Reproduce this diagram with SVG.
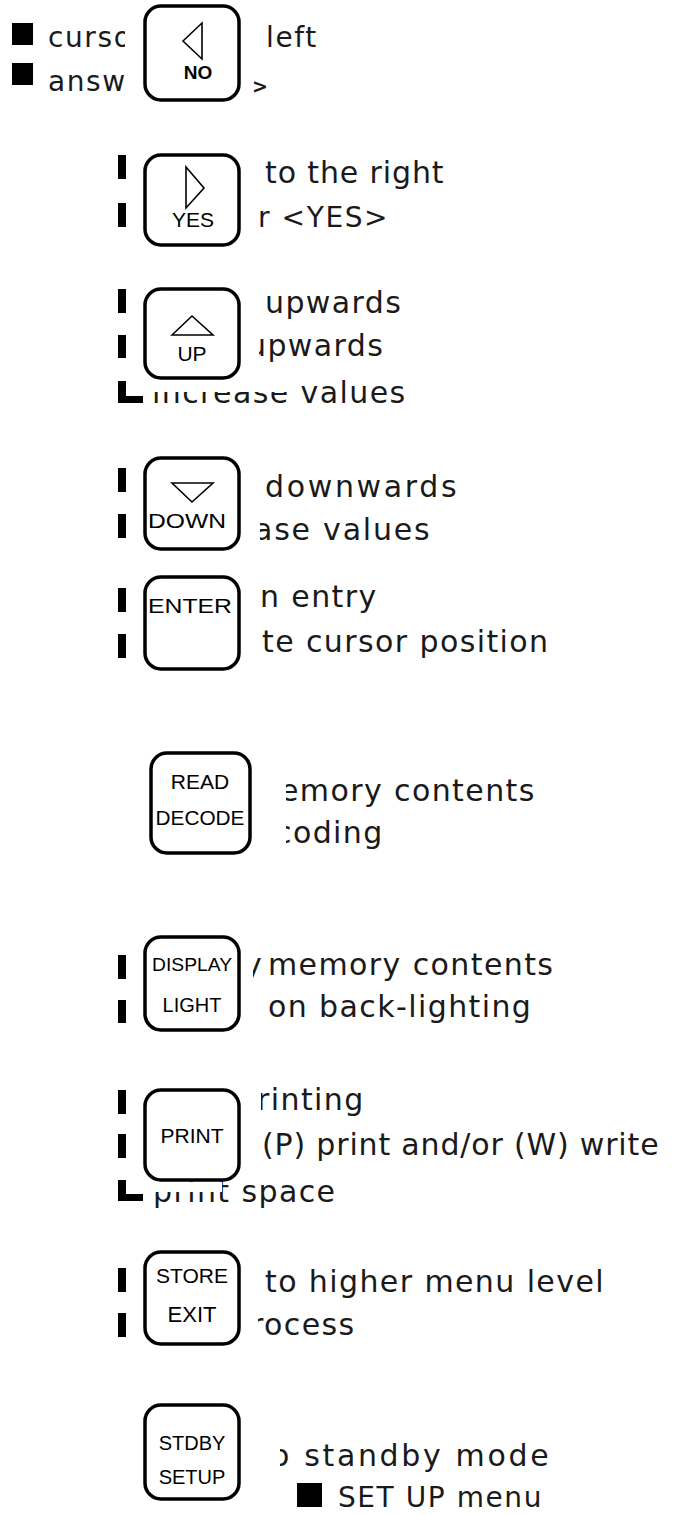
<svg xmlns="http://www.w3.org/2000/svg" width="680" height="1515" viewBox="0 0 680 1515">
<style>
.t{font-family:"DejaVu Sans","Liberation Sans",sans-serif;font-size:30px;letter-spacing:1.4px;fill:#1a1a1a}
.s{font-size:28px;letter-spacing:1.6px}
.k{font-family:"Liberation Sans",Arial,sans-serif;fill:#000;text-anchor:middle}
.key{fill:#fff;stroke:#000;stroke-width:3.5}
.tri{fill:none;stroke:#000;stroke-width:1.6;stroke-linejoin:miter}
.b{fill:#000}
.o{fill:#fff}
</style>
<rect width="680" height="1515" fill="#fff"/>

<g id="row-no">
<rect class="b" x="12" y="23" width="21" height="22"/>
<rect class="b" x="12" y="63" width="21" height="22"/>
<text class="t s" x="48" y="47">curso</text>
<text class="t s" x="48" y="91">answ</text>
<rect class="o" x="125" y="10" width="18" height="90"/>
<text class="t s" x="266" y="47">left</text>
<text x="252" y="93" style="font-family:'DejaVu Sans',sans-serif;font-size:19px;font-weight:bold;fill:#1a1a1a">&gt;</text>
<rect class="key" x="145" y="6" width="94" height="94" rx="16"/>
<polygon class="tri" points="183,41 202,23 202,59"/>
<text class="k" x="198" y="79" font-size="19" font-weight="bold">NO</text>
</g>

<g id="row-yes">
<rect class="b" x="118" y="155" width="8" height="24"/>
<rect class="b" x="118" y="203" width="8" height="24"/>
<text class="t" x="265" y="183" textLength="180">to the right</text>
<text class="t s" x="258" y="227">r &lt;YES&gt;</text>
<rect class="key" x="145" y="155" width="94" height="90" rx="16"/>
<polygon class="tri" points="186,167 204,188 186,208"/>
<text class="k" x="193" y="227" font-size="21">YES</text>
</g>

<g id="row-up">
<rect class="b" x="118" y="289" width="8" height="24"/>
<rect class="b" x="118" y="335" width="8" height="23"/>
<text class="t" x="265" y="313">upwards</text>
<text class="t" x="247" y="356">upwards</text>
<rect class="o" x="242" y="320" width="17" height="50"/>
<path class="b" d="M118 381h8v15h17v7h-25z"/>
<text class="t" x="152" y="403">increase values</text>
<rect class="o" x="145" y="380" width="150" height="12"/>
<rect class="key" x="145" y="289" width="94" height="89" rx="16"/>
<polygon class="tri" points="172,335 192,316 213,335"/>
<text class="k" x="192" y="361" font-size="21">UP</text>
</g>

<g id="row-down">
<rect class="b" x="118" y="468" width="8" height="24"/>
<rect class="b" x="118" y="514" width="8" height="24"/>
<text class="t" x="265" y="497" textLength="193">downwards</text>
<text class="t" x="254" y="540" textLength="177">ase values</text>
<rect class="o" x="242" y="505" width="18" height="45"/>
<rect class="key" x="145" y="458" width="94" height="91" rx="16"/>
<polygon class="tri" points="172,483 213,483 192,502"/>
<text class="k" x="187" y="528" font-size="21" textLength="78" lengthAdjust="spacingAndGlyphs">DOWN</text>
</g>

<g id="row-enter">
<rect class="b" x="118" y="588" width="8" height="24"/>
<rect class="b" x="118" y="634" width="8" height="24"/>
<text class="t" x="260" y="607">n entry</text>
<text class="t" x="262" y="652">te cursor position</text>
<rect class="key" x="145" y="577" width="94" height="92" rx="16"/>
<text class="k" x="190" y="613" font-size="21" textLength="84" lengthAdjust="spacingAndGlyphs">ENTER</text>
</g>

<g id="row-read">
<text class="t" x="280" y="801">emory contents</text>
<text class="t" x="275" y="843">coding</text>
<rect class="o" x="253" y="775" width="33" height="85"/>
<rect class="key" x="151" y="753" width="99" height="100" rx="16"/>
<text class="k" x="200" y="789" font-size="21">READ</text>
<text class="k" x="200" y="825" font-size="21" textLength="89" lengthAdjust="spacingAndGlyphs">DECODE</text>
</g>

<g id="row-display">
<rect class="b" x="118" y="955" width="8" height="24"/>
<rect class="b" x="118" y="1000" width="8" height="23"/>
<text class="t" x="244" y="975">y</text>
<text class="t" x="268" y="975">memory contents</text>
<text class="t" x="268" y="1017">on back-lighting</text>
<rect class="o" x="242" y="950" width="11" height="40"/>
<rect class="key" x="145" y="937" width="94" height="93" rx="16"/>
<text class="k" x="192" y="971" font-size="19" textLength="80" lengthAdjust="spacingAndGlyphs">DISPLAY</text>
<text class="k" x="192" y="1012" font-size="20">LIGHT</text>
</g>

<g id="row-print">
<rect class="b" x="118" y="1090" width="8" height="24"/>
<rect class="b" x="118" y="1134" width="8" height="24"/>
<text class="t" x="257" y="1110">rinting</text>
<rect class="o" x="242" y="1088" width="19" height="32"/>
<text class="t" x="262" y="1155" textLength="398">(P) print and/or (W) write</text>
<path class="b" d="M118 1180h8v14h17v7h-25z"/>
<text class="t" x="153" y="1202">print space</text>
<rect class="o" x="145" y="1182" width="77" height="10"/>
<rect class="key" x="145" y="1090" width="94" height="90" rx="16"/>
<text class="k" x="192" y="1143" font-size="21">PRINT</text>
</g>

<g id="row-store">
<rect class="b" x="118" y="1268" width="8" height="24"/>
<rect class="b" x="118" y="1313" width="8" height="24"/>
<text class="t" x="265" y="1292">to higher menu level</text>
<text class="t" x="251" y="1335">rocess</text>
<rect class="o" x="242" y="1305" width="16" height="35"/>
<rect class="key" x="145" y="1252" width="94" height="92" rx="16"/>
<text class="k" x="192" y="1283" font-size="21">STORE</text>
<text class="k" x="192" y="1322" font-size="22">EXIT</text>
</g>

<g id="row-stdby">
<text class="t" x="271" y="1466" textLength="279">o standby mode</text>
<rect class="o" x="242" y="1436" width="38" height="40"/>
<rect class="b" x="297" y="1483" width="25" height="24"/>
<text class="t s" x="338" y="1507" textLength="205">SET UP menu</text>
<rect class="key" x="145" y="1405" width="94" height="94" rx="16"/>
<text class="k" x="192" y="1450" font-size="20">STDBY</text>
<text class="k" x="192" y="1484" font-size="20">SETUP</text>
</g>
</svg>
